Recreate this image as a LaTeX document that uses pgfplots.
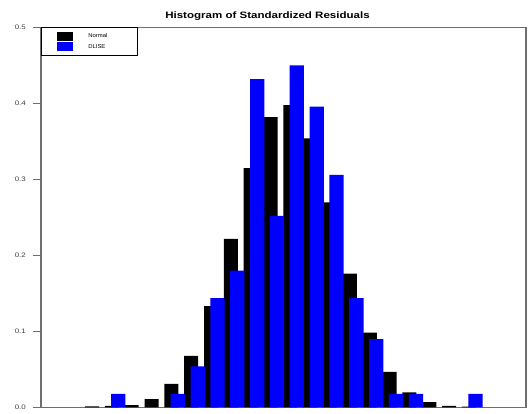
\documentclass[border=0pt]{standalone}
\usepackage{fontspec}
\setmainfont{Liberation Sans}
\newfontfamily\titlefont[FakeStretch=1.24]{Liberation Sans}
\newfontfamily\tickfont[FakeStretch=1.22]{Liberation Sans}
\newfontfamily\legfont[FakeStretch=1.06]{Liberation Sans}
\usepackage{pgfplots}
\pgfplotsset{compat=1.18}
\definecolor{axgray}{RGB}{110,110,110}
\definecolor{dblue}{RGB}{0,0,255}
\begin{document}
\begin{tikzpicture}[x=1pt,y=1pt]
\path (0,0) rectangle (528,412);
\begin{axis}[
  at={(41pt,4.5pt)}, anchor=south west,
  scale only axis,
  width=485pt, height=380pt,
  xmin=-2.571, xmax=21.875,
  ymin=0, ymax=0.5,
  xtick=\empty,
  ytick={0,0.1,0.2,0.3,0.4,0.5},
  ytick pos=left,
  tick align=outside,
  major tick length=8pt,
  every tick/.style={axgray, line width=1pt},
  axis line style={axgray, line width=1.3pt},
  yticklabel style={font=\tickfont\fontsize{6.5}{7}\selectfont, text=black!75, inner xsep=0pt, xshift=-7pt},
  /pgf/number format/assume math mode=true,
  /pgf/number format/.cd, fixed, fixed zerofill, precision=1, /pgfplots/.cd,
  every axis title shift=0pt,
  title={\textbf{Histogram of Standardized Residuals}},
  title style={font=\titlefont\fontsize{9.3}{11}\selectfont, at={(0.467,1)}, anchor=base, yshift=9pt, inner sep=0pt},
  legend image code/.code={\fill[#1] (0pt,-4.6pt) rectangle (16pt,4.6pt);},
  legend style={at={(0,1)}, anchor=north west, draw=black, line width=0.6pt,
    inner xsep=16pt, inner ysep=4.2pt, row sep=1pt,
    font=\legfont\fontsize{5.6}{6}\selectfont,
    nodes={inner xsep=0pt, inner ysep=0pt, text width=33pt, align=left},
    /tikz/every odd column/.style={column sep=15pt}},
  legend cell align=left,
]
\addplot[ybar, bar width=0.706, bar shift=0pt, fill=black, draw=none] coordinates {
(0,0.0015) (1,0.002) (2,0.003) (3,0.011) (4,0.031) (5,0.068) (6,0.1335) (7,0.222) (8,0.315) (9,0.382)
(10,0.398) (11,0.354) (12,0.270) (13,0.176) (14,0.0985) (15,0.047) (16,0.020) (17,0.007) (18,0.002) (19,0.0012)
};
\addlegendentry{Normal}
\addplot[ybar, bar width=0.72, bar shift=0pt, fill=dblue, draw=none] coordinates {
(1.325,0.018) (4.325,0.018) (5.325,0.054) (6.325,0.144) (7.325,0.180) (8.325,0.432) (9.325,0.252)
(10.325,0.450) (11.325,0.396) (12.325,0.306) (13.325,0.144) (14.325,0.090) (15.325,0.018) (16.325,0.018) (19.325,0.018)
};
\addlegendentry{DLISE}
\end{axis}
\end{tikzpicture}
\end{document}
